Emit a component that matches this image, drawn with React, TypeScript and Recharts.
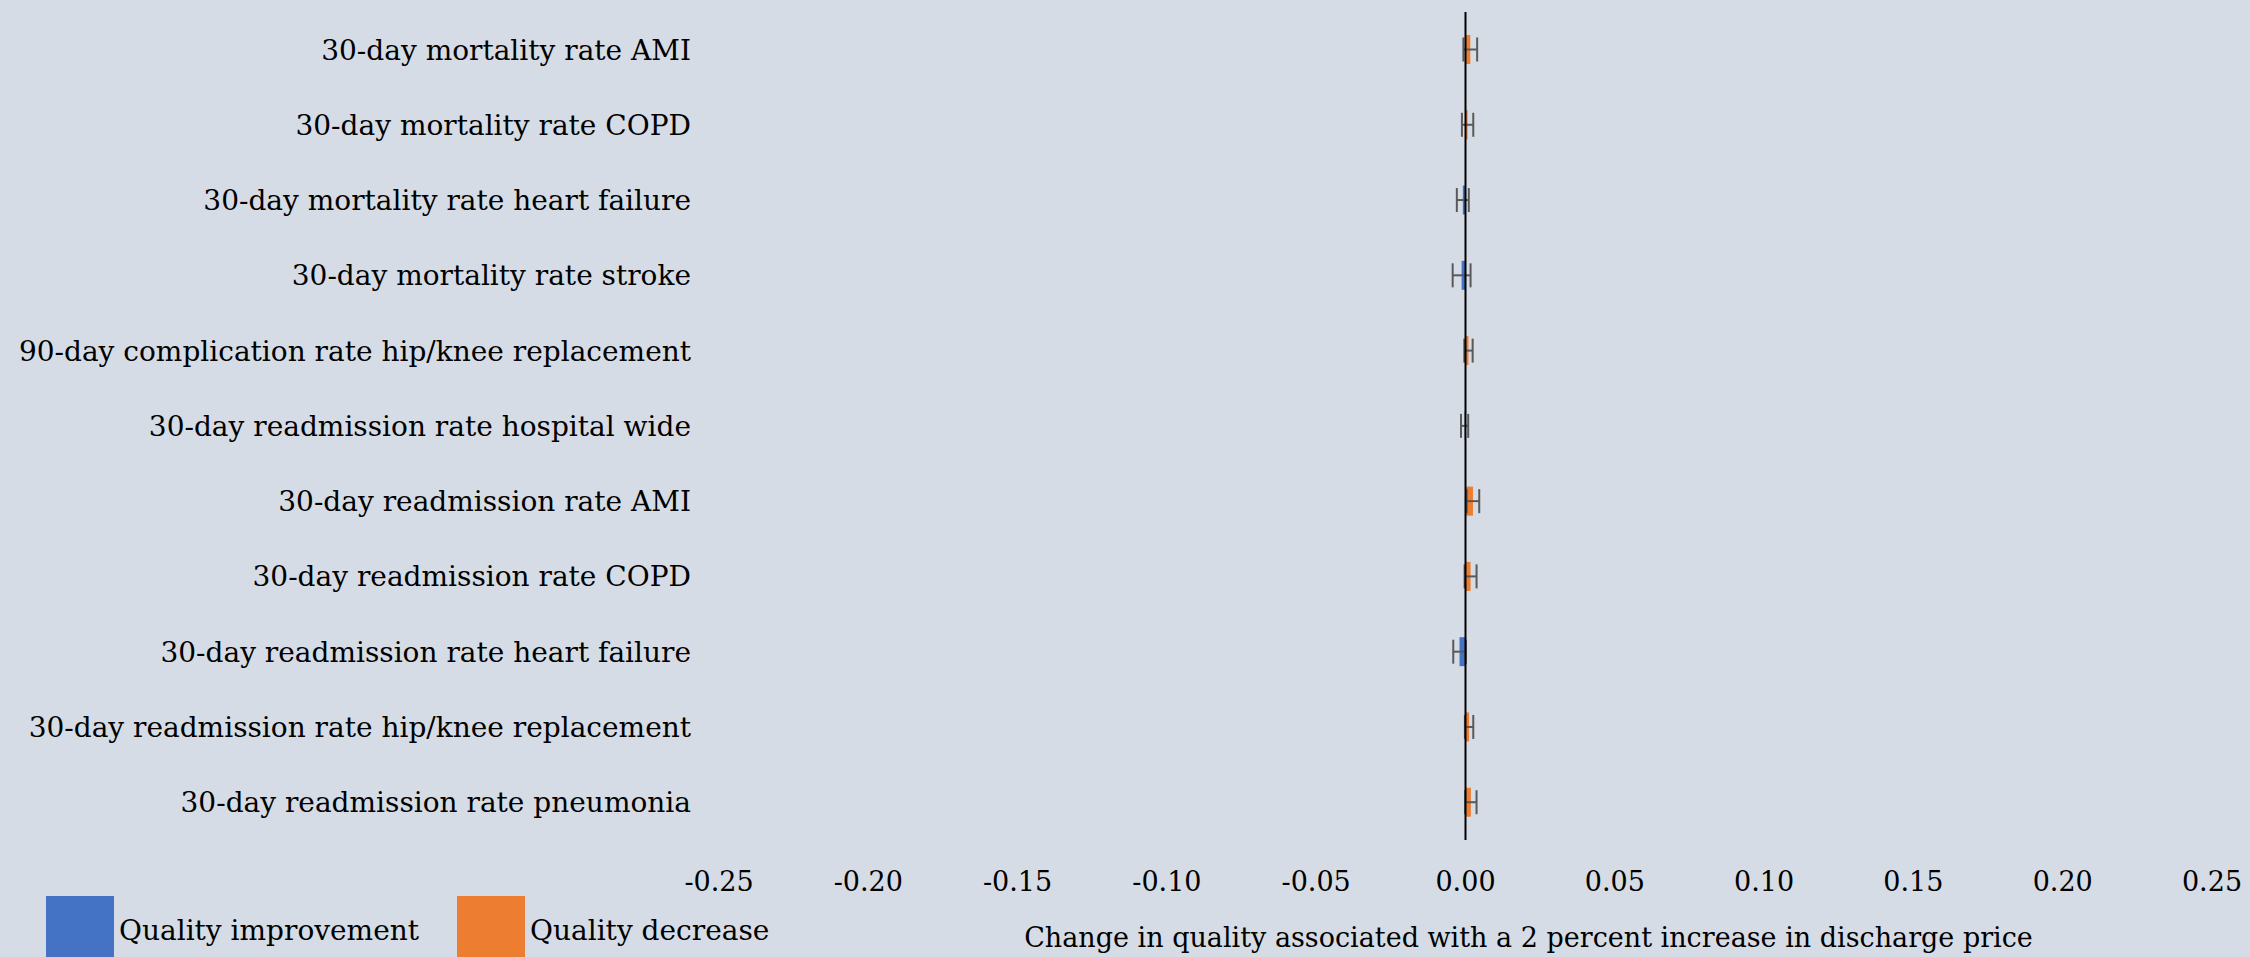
import {
  Bar,
  BarChart,
  ErrorBar,
  Legend,
  ReferenceLine,
  XAxis,
  YAxis,
} from "recharts";

const categories = [
  "30-day mortality rate AMI",
  "30-day mortality rate COPD",
  "30-day mortality rate heart failure",
  "30-day mortality rate stroke",
  "90-day complication rate hip/knee replacement",
  "30-day readmission rate hospital wide",
  "30-day readmission rate AMI",
  "30-day readmission rate COPD",
  "30-day readmission rate heart failure",
  "30-day readmission rate hip/knee replacement",
  "30-day readmission rate pneumonia",
];

const improvement = [null, null, -0.0009, -0.0013, null, -0.0003, null, null, -0.002, null, null];
const improvementErr = [null, null, 0.002, 0.003, null, 0.0012, null, null, 0.0021, null, null];
const decrease = [0.0016, 0.0007, null, null, 0.001, null, 0.0025, 0.0017, null, 0.0012, 0.0018];
const decreaseErr = [0.0023, 0.0019, null, null, 0.0014, null, 0.0021, 0.002, null, 0.0014, 0.0019];

const xTicks = [-0.25, -0.2, -0.15, -0.1, -0.05, 0, 0.05, 0.1, 0.15, 0.2, 0.25];

const seriesNames = ["Quality improvement", "Quality decrease"];

const axisTitle = "Change in quality associated with a 2 percent increase in discharge price";

const data = categories.map((name, i) => ({
  name,
  improvement: improvement[i],
  improvementErr: improvementErr[i],
  decrease: decrease[i],
  decreaseErr: decreaseErr[i],
}));

const font = "'DejaVu Serif', serif";

function renderLegend(props: any) {
  const items = [...(props.payload || [])].sort(
    (a: any, b: any) => seriesNames.indexOf(a.value) - seriesNames.indexOf(b.value)
  );
  return (
    <div style={{ display: "flex", alignItems: "center", fontFamily: font, fontSize: 28 }}>
      {items.map((item: any) => (
        <div key={item.value} style={{ display: "flex", alignItems: "center", marginRight: 38 }}>
          <div style={{ width: 68, height: 68, background: item.color, marginRight: 5 }} />
          <span style={{ color: "#000", whiteSpace: "nowrap" }}>{item.value}</span>
        </div>
      ))}
    </div>
  );
}

export default function App() {
  return (
    <div style={{ width: 2250, height: 957, background: "#D6DCE5", overflow: "hidden" }}>
      <style>{"body{margin:0}"}</style>
      <BarChart
        width={2250}
        height={957}
        data={data}
        layout="vertical"
        margin={{ top: 12, right: 38, left: 0, bottom: 0 }}
        barSize={29}
        barGap={-29}
        style={{ fontFamily: font }}
      >
        <XAxis
          type="number"
          domain={[-0.25, 0.25]}
          ticks={xTicks}
          tickFormatter={(v: number) => v.toFixed(2)}
          axisLine={false}
          tickLine={false}
          tickMargin={26}
          height={117}
          tick={{ fill: "#000", fontSize: 27 }}
          label={{
            value: axisTitle,
            position: "insideBottom",
            offset: 10,
            dx: 63,
            fill: "#000",
            fontSize: 27,
          }}
        />
        <YAxis
          type="category"
          dataKey="name"
          width={719}
          axisLine={false}
          tickLine={false}
          tickMargin={22}
          interval={0}
          tick={{ fill: "#000", fontSize: 28 }}
        />
        <Legend
          layout="horizontal"
          verticalAlign="middle"
          align="center"
          wrapperStyle={{ left: 46, top: 896, width: "auto" }}
          content={renderLegend}
        />
        <Bar dataKey="improvement" name="Quality improvement" fill="#4472C4" isAnimationActive={false}>
          <ErrorBar dataKey="improvementErr" direction="x" width={12} stroke="#595959" strokeWidth={2} />
        </Bar>
        <Bar dataKey="decrease" name="Quality decrease" fill="#ED7D31" isAnimationActive={false}>
          <ErrorBar dataKey="decreaseErr" direction="x" width={12} stroke="#595959" strokeWidth={2} />
        </Bar>
        <ReferenceLine x={0} stroke="#000" strokeWidth={2} />
      </BarChart>
    </div>
  );
}
